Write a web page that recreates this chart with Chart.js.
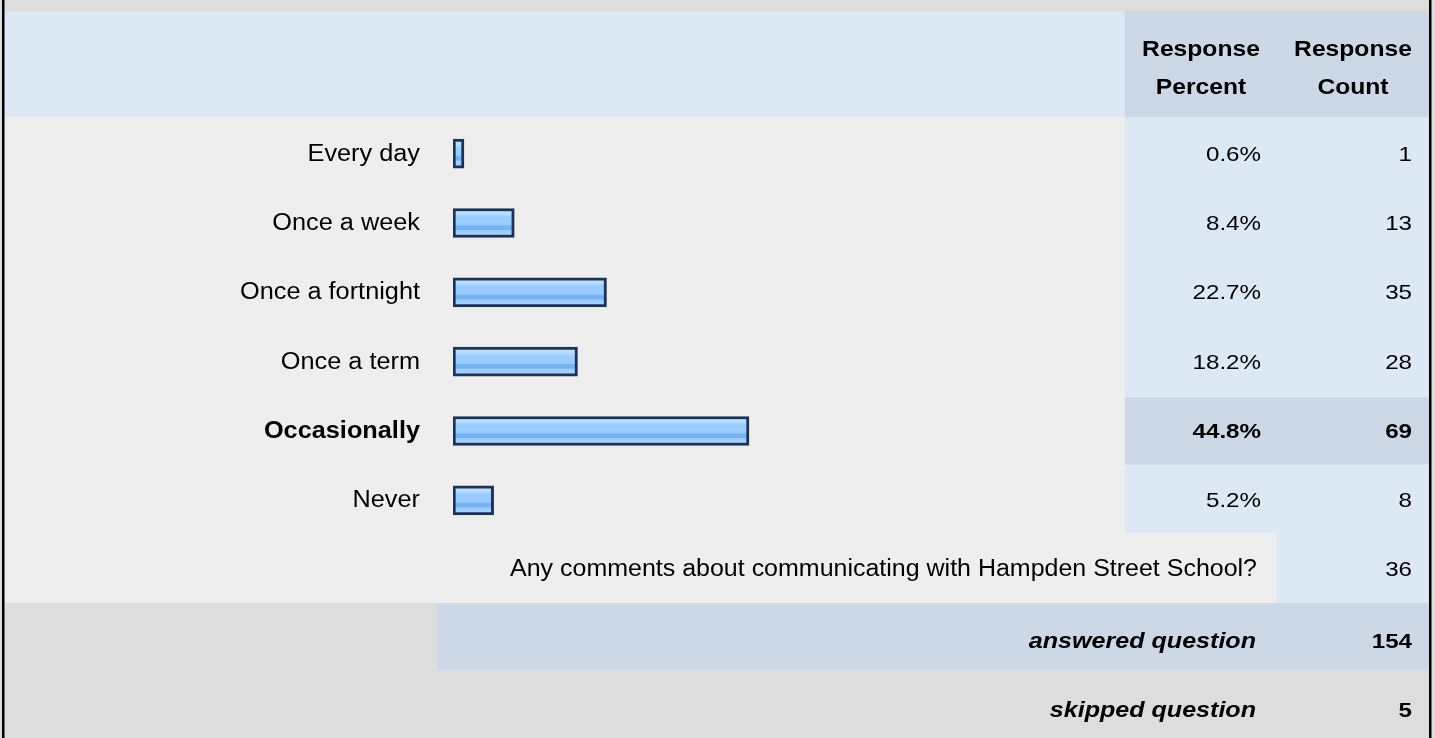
<!DOCTYPE html>
<html>
<head>
<meta charset="utf-8">
<script src="https://cdn.jsdelivr.net/npm/chart.js@4.4.0/dist/chart.umd.min.js"></script>
<style>
  html, body { margin: 0; padding: 0; background: #dddddd; overflow: hidden; }
  #wrap { width: 1435px; height: 738px; }
</style>
</head>
<body>
<div id="wrap"><canvas id="survey" width="1435" height="738"></canvas></div>
<script>
// Daten
const categories = ['Every day', 'Once a week', 'Once a fortnight', 'Once a term', 'Occasionally', 'Never'];
const percents = [0.6, 8.4, 22.7, 18.2, 44.8, 5.2];
const counts = [1, 13, 35, 28, 69, 8];
const headerPercent = ['Response', 'Percent'];
const headerCount = ['Response', 'Count'];
const commentLabel = 'Any comments about communicating with Hampden Street School?';
const commentCount = 36;
const answeredLabel = 'answered question';
const answeredCount = 154;
const skippedLabel = 'skipped question';
const skippedCount = 5;
const highlightIndex = 4; // most frequent answer is shown bold

// Farben
const C_HEAD = '#dde8f5';
const C_BODY = '#eeeeee';
const C_MID = '#ccd8e6';
const C_GREY = '#dddddd';
const FONT = '"Liberation Sans", Arial, sans-serif';

// the source text is rendered slightly wide, so stretch it horizontally
function txt(ctx, s, x, y, font, align, sx) {
  ctx.save();
  ctx.font = font;
  ctx.fillStyle = '#000';
  ctx.textAlign = align;
  ctx.textBaseline = 'alphabetic';
  ctx.translate(x, y);
  ctx.scale(sx, 1);
  ctx.fillText(s, 0, 0);
  ctx.restore();
}

// table backgrounds + texts
const tablePlugin = {
  id: 'table',
  beforeDraw(chart) {
    const ctx = chart.ctx;
    const y = chart.scales.y;
    ctx.save();
    ctx.fillStyle = C_GREY;
    ctx.fillRect(0, 0, 1435, 738);
    // header
    ctx.fillStyle = C_HEAD; ctx.fillRect(4, 11, 1121, 106);
    ctx.fillStyle = C_MID; ctx.fillRect(1125, 11, 304, 106);
    // answer rows
    ctx.fillStyle = C_BODY; ctx.fillRect(4, 117, 1121, 416);
    ctx.fillStyle = C_HEAD; ctx.fillRect(1125, 117, 304, 416);
    const hy = y.getPixelForValue(highlightIndex);
    ctx.fillStyle = C_MID; ctx.fillRect(1125, hy - 33.5, 304, 67);
    // comments row
    ctx.fillStyle = C_BODY; ctx.fillRect(4, 533, 1273, 70);
    ctx.fillStyle = C_HEAD; ctx.fillRect(1277, 533, 152, 70);
    // answered row
    ctx.fillStyle = C_MID; ctx.fillRect(437, 603, 992, 67);
    // borders
    ctx.fillStyle = '#000';
    ctx.fillRect(2, 0, 2.5, 738);
    ctx.fillRect(1429, 0, 2.5, 738);
    ctx.restore();
  },
  afterDraw(chart) {
    const ctx = chart.ctx;
    const y = chart.scales.y;
    const reg = '23px ' + FONT;
    const bold = 'bold 23px ' + FONT;
    const num = '21px ' + FONT;
    const numB = 'bold 21px ' + FONT;
    const head = 'bold 22px ' + FONT;
    const foot = 'italic bold 22px ' + FONT;

    txt(ctx, headerPercent[0], 1201, 56, head, 'center', 1.12);
    txt(ctx, headerPercent[1], 1201, 94, head, 'center', 1.12);
    txt(ctx, headerCount[0], 1353, 56, head, 'center', 1.12);
    txt(ctx, headerCount[1], 1353, 94, head, 'center', 1.12);

    categories.forEach((c, i) => {
      const py = y.getPixelForValue(i) + 7;
      const hi = i === highlightIndex;
      txt(ctx, c, 420, py, hi ? bold : reg, 'right', 1.1);
      txt(ctx, percents[i].toFixed(1) + '%', 1261, py, hi ? numB : num, 'right', 1.15);
      txt(ctx, String(counts[i]), 1412, py, hi ? numB : num, 'right', 1.15);
    });

    txt(ctx, commentLabel, 1257, 576, reg, 'right', 1.086);
    txt(ctx, String(commentCount), 1412, 576, num, 'right', 1.15);
    txt(ctx, answeredLabel, 1256, 648, foot, 'right', 1.14);
    txt(ctx, String(answeredCount), 1412, 648, numB, 'right', 1.15);
    txt(ctx, skippedLabel, 1256, 717, foot, 'right', 1.14);
    txt(ctx, String(skippedCount), 1412, 717, numB, 'right', 1.15);
  }
};

function barFill(context) {
  const chart = context.chart;
  if (!chart.chartArea) return '#99ccff';
  const cy = chart.scales.y.getPixelForValue(context.dataIndex);
  const g = chart.ctx.createLinearGradient(0, cy - 14.5, 0, cy + 14.5);
  g.addColorStop(0.0, '#d2e8ff');
  g.addColorStop(0.2, '#b4daff');
  g.addColorStop(0.3, '#99ccff');
  g.addColorStop(0.56, '#99ccff');
  g.addColorStop(0.6, '#78b2f1');
  g.addColorStop(0.72, '#78b2f1');
  g.addColorStop(0.76, '#99ccff');
  g.addColorStop(1.0, '#aad4ff');
  return g;
}

const ctx = document.getElementById('survey').getContext('2d');
const chart = new Chart(ctx, {
  type: 'bar',
  data: {
    labels: categories,
    datasets: [{
      data: percents,
      base: -1.1, // tiny values still show a stub
      backgroundColor: barFill,
      borderColor: '#1c3256',
      borderWidth: 3,
      borderSkipped: false,
      barThickness: 29
    }]
  },
  plugins: [tablePlugin],
  options: {
    indexAxis: 'y',
    responsive: false,
    animation: false,
    layout: { padding: { left: 453, right: 330, top: 119, bottom: 203 } },
    scales: {
      x: { type: 'linear', min: -1.1, max: 100, display: false },
      y: { type: 'category', display: false }
    },
    plugins: {
      legend: { display: false },
      tooltip: { enabled: false }
    }
  }
});
</script>
</body>
</html>
